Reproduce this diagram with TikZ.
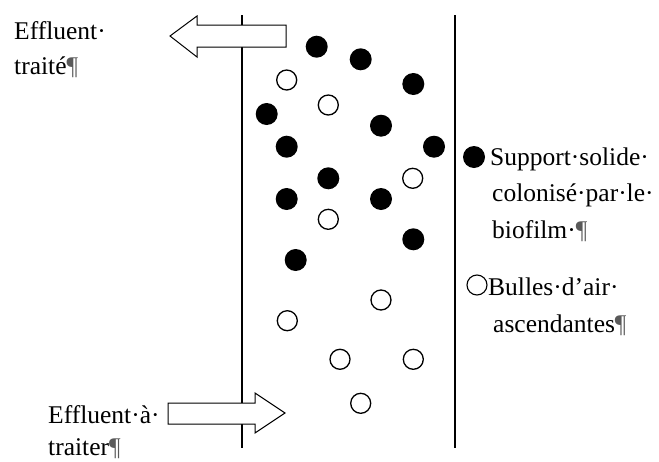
\documentclass[tikz,border=0pt]{standalone}
\usepackage{fontspec}
\setmainfont{Liberation Serif}
\tikzset{
  wall/.style={line width=1.5pt},
  solid ball/.style={fill=black},
  bubble/.style={draw=black, line width=1.3pt, fill=white},
  flowarrow/.style={draw=black, line width=1pt, fill=white},
  lbl/.style={anchor=base west, inner sep=0pt, font=\fontsize{25.5}{36}\selectfont},
}
\newcommand{\pilcrow}{\textcolor{black!65}{¶}}
\begin{document}
\begin{tikzpicture}[x=1pt,y=-1pt]
\useasboundingbox (0,0) rectangle (659,461);
% walls
\coordinate (lt) at (242,15);
\coordinate (lb) at (242,448);
\coordinate (rt) at (455,15);
\coordinate (rb) at (455,448);
\draw[wall] (lt) -- (lb);
\draw[wall] (rt) -- (rb);
% outlet arrow (left)
\draw[flowarrow] (286,25) -- (197,25) -- (197,16) -- (170,36) -- (197,57) -- (197,47) -- (286,47) -- cycle;
% inlet arrow (right)
\draw[flowarrow] (168,403) -- (255,403) -- (255,393) -- (285,413) -- (255,433) -- (255,424) -- (168,424) -- cycle;
% solid supports
\foreach \p in {(316.7,46.7),(360.7,59.3),(413.3,84),(266.7,114),(381,125.7),(286.7,146.7),(434,146.7),(328.3,178.3),(286.7,199),(381,199),(413.3,239.3),(295.7,260)}
  \fill[solid ball] \p circle[radius=11];
% bubbles
\foreach \p in {(286.7,80),(328.3,105),(412.7,178.3),(328.3,219.3),(381,300),(287.3,320.7),(340,359.3),(413.3,359.3),(360.7,403.3)}
  \draw[bubble] \p circle[radius=10];
% texts
\node[lbl] (t1) at (14,39) {Effluent·};
\node[lbl] (t2) at (14,74) {traité\pilcrow};
\node[lbl] (b1) at (48,423) {Effluent·à·};
\node[lbl] (b2) at (48,455) {traiter\pilcrow};
% legend
\fill[solid ball] (474,157) circle[radius=11];
\node[lbl] (l1) at (490,165) {Support·solide·};
\node[lbl] (l2) at (492,201) {colonisé·par·le·};
\node[lbl] (l3) at (492,238) {biofilm·\pilcrow};
\draw[bubble, line width=1.1pt] (477,285) circle[radius=10];
\node[lbl] (l4) at (488,295) {Bulles·d’air·};
\node[lbl] (l5) at (493,332) {ascendantes\pilcrow};
\end{tikzpicture}
\end{document}
